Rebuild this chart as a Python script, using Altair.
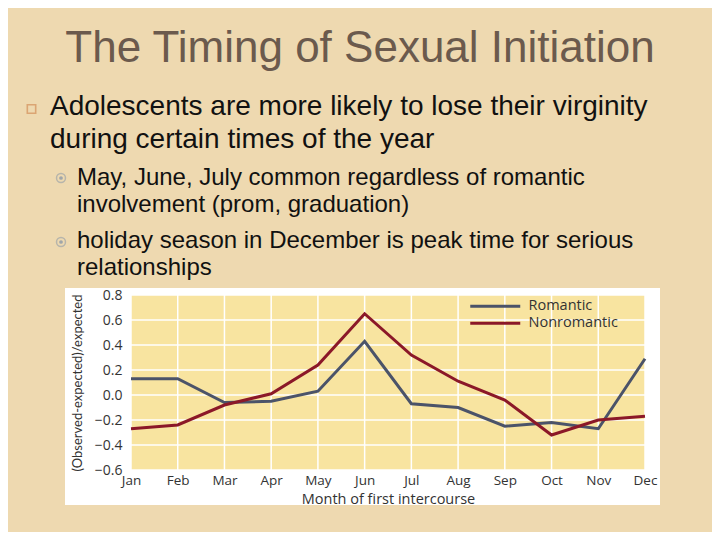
import altair as alt
import pandas as pd

# ---- data ----
months = ["Jan", "Feb", "Mar", "Apr", "May", "Jun", "Jul", "Aug", "Sep", "Oct", "Nov", "Dec"]
romantic = [0.13, 0.13, -0.06, -0.05, 0.03, 0.43, -0.07, -0.10, -0.25, -0.22, -0.27, 0.29]
nonromantic = [-0.27, -0.24, -0.08, 0.01, 0.24, 0.65, 0.32, 0.11, -0.04, -0.32, -0.20, -0.17]
series_names = ["Romantic", "Nonromantic"]
y_ticks = [-0.6, -0.4, -0.2, 0.0, 0.2, 0.4, 0.6, 0.8]

slide_title = "The Timing of Sexual Initiation"
bullet_lines = ["Adolescents are more likely to lose their virginity",
                "during certain times of the year"]
sub1_lines = ["May, June, July common regardless of romantic",
              "involvement (prom, graduation)"]
sub2_lines = ["holiday season in December is peak time for serious",
              "relationships"]

# ---- tables ----
df = pd.DataFrame({
    "month": months * 2,
    "value": romantic + nonromantic,
    "series": [series_names[0]] * len(months) + [series_names[1]] * len(months),
})
months_df = pd.DataFrame({"month": months})
ticks_df = pd.DataFrame({"value": y_ticks})
one = alt.Data(values=[{"k": 0}])

W, H = 514, 175
xscale = alt.Scale(type="point", domain=months, padding=0)
yscale = alt.Scale(domain=[-0.6, 0.8], nice=False, zero=False)

axis_font = "Open Sans"
x_axis = alt.Axis(title="Month of first intercourse", labelAngle=0, zindex=2,
                  grid=False, domain=False, ticks=False,
                  labelFont=axis_font, labelFontSize=13.5, labelColor="#333",
                  labelPadding=3, titleFont=axis_font, titleFontSize=14.5,
                  titleFontWeight="normal", titleColor="#333", titlePadding=6)
y_axis = alt.Axis(title="(Observed-expected)/expected", values=y_ticks, format=".1f",
                  zindex=2, grid=False, domain=False, ticks=False,
                  labelFont=axis_font, labelFontSize=14, labelColor="#333",
                  labelPadding=9, titleFont="Lato", titleFontSize=13,
                  titleFontWeight="normal", titleColor="#333", titlePadding=10)

white_box = alt.Chart(one).mark_rect(color="white").encode(
    x=alt.value(-66), x2=alt.value(529), y=alt.value(-7), y2=alt.value(210))
yellow = alt.Chart(one).mark_rect(color="#F8E4A0").encode(
    x=alt.value(0), x2=alt.value(W), y=alt.value(0), y2=alt.value(H))

vgrid = alt.Chart(months_df).mark_rule(color="white", strokeWidth=1.5).encode(
    x=alt.X("month:N", scale=xscale, sort=months, axis=x_axis),
    y=alt.value(0), y2=alt.value(H))
hgrid = alt.Chart(ticks_df).mark_rule(color="white", strokeWidth=1.5).encode(
    y=alt.Y("value:Q", scale=yscale, axis=y_axis),
    x=alt.value(0), x2=alt.value(W))

lines = alt.Chart(df).mark_line(strokeWidth=3).encode(
    x=alt.X("month:N", scale=xscale, sort=months, axis=x_axis),
    y=alt.Y("value:Q", scale=yscale, axis=y_axis),
    color=alt.Color("series:N",
                    scale=alt.Scale(domain=series_names, range=["#4B5369", "#8B1828"]),
                    sort=series_names,
                    legend=alt.Legend(title=None, orient="none", legendX=357, legendY=4,
                                      symbolType="M-5,0H5", symbolSize=100,
                                      symbolStrokeWidth=3, labelFont=axis_font,
                                      labelFontSize=14.5, labelColor="#333",
                                      labelOffset=26, rowPadding=2, padding=0,
                                      zindex=2)),
    detail="series:N",
)


def text_layer(txt, x, y, size, color, align="left", font="Liberation Sans"):
    return alt.Chart(one).mark_text(align=align, baseline="alphabetic", fontSize=size,
                                    font=font, color=color).encode(
        x=alt.value(x), y=alt.value(y), text=alt.value(txt))


texts = [
    text_layer(slide_title, 229, -233, 44, "#6B5A4D", align="center"),
    text_layer(bullet_lines[0], -81, -180, 28, "#111111"),
    text_layer(bullet_lines[1], -81, -147, 28, "#111111"),
    text_layer(sub1_lines[0], -54, -110, 24, "#111111"),
    text_layer(sub1_lines[1], -54, -83, 24, "#111111"),
    text_layer(sub2_lines[0], -54, -47, 24, "#111111"),
    text_layer(sub2_lines[1], -54, -20, 24, "#111111"),
]

sq = alt.Chart(one).mark_point(shape="square", filled=False, color="#D4905A",
                               strokeWidth=1.6, size=70).encode(
    x=alt.value(-99.5), y=alt.value(-186))
ring1 = alt.Chart(one).mark_point(shape="circle", filled=False, color="#A0A6AA",
                                  strokeWidth=1.5, size=80).encode(
    x=alt.value(-70), y=alt.value(-117))
dot1 = alt.Chart(one).mark_point(shape="circle", filled=True, color="#A0A6AA",
                                 size=14, opacity=1).encode(
    x=alt.value(-70), y=alt.value(-117))
ring2 = alt.Chart(one).mark_point(shape="circle", filled=False, color="#A0A6AA",
                                  strokeWidth=1.5, size=80).encode(
    x=alt.value(-70), y=alt.value(-53))
dot2 = alt.Chart(one).mark_point(shape="circle", filled=True, color="#A0A6AA",
                                 size=14, opacity=1).encode(
    x=alt.value(-70), y=alt.value(-53))

chart = alt.layer(white_box, yellow, vgrid, hgrid, lines, *texts,
                  sq, ring1, dot1, ring2, dot2).properties(
    width=W, height=H,
    padding={"left": 123, "top": 287, "right": 67, "bottom": 62},
    autosize=alt.AutoSizeParams(type="none"),
    background="#EED9B0",
).configure_view(stroke=None)

chart.save("out.html", embed_options={"renderer": "svg", "actions": False})
